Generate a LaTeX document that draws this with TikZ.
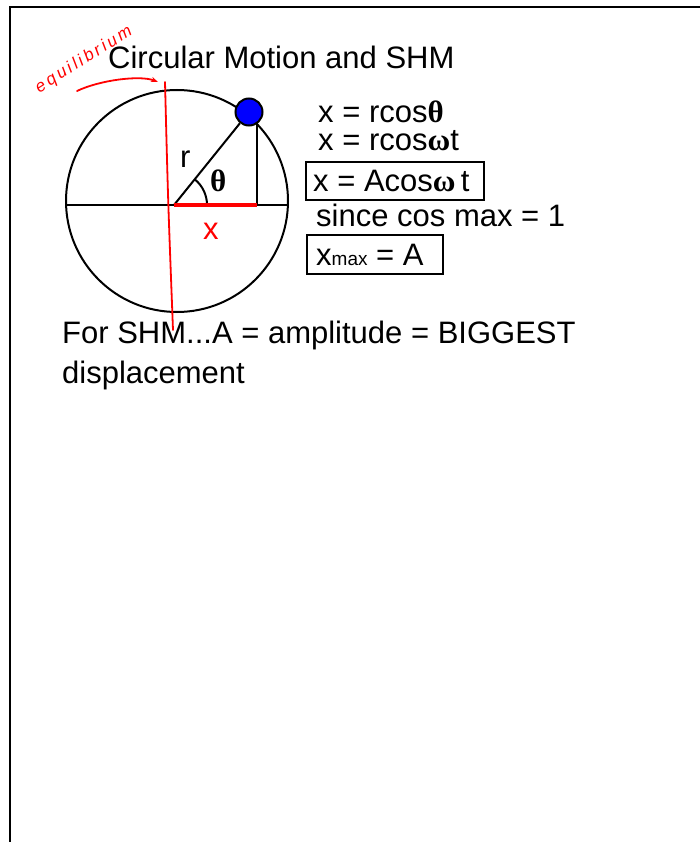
\documentclass[tikz,border=0pt]{standalone}
\usepackage{fontspec}
\setmainfont{Liberation Sans}
\newfontfamily\symf{Liberation Serif}
\usetikzlibrary{arrows.meta}
\tikzset{
  txt/.style={anchor=base west, inner sep=0pt, font=\fontsize{31}{34}\selectfont},
  ink/.style={red, line width=1.8pt, line cap=round},
  pen/.style={line width=2pt},
}
\newcommand{\thet}{{\symf\bfseries θ}}
\newcommand{\omg}{{\symf\bfseries ω}}
\begin{document}
\begin{tikzpicture}[x=1pt,y=-1pt]
\useasboundingbox (0,0) rectangle (700,842);
\draw[line width=2.2pt] (10,843) -- (10,7) -- (701,7);
% circle diagram
\coordinate (C) at (177,201);
\coordinate (O) at (174,205);
\coordinate (L) at (66,205);
\coordinate (R) at (288,205);
\coordinate (F) at (257,205);
\coordinate (Ft) at (257,118);
\draw[pen] (C) circle[radius=111];
\draw[pen] (L) -- (R);
\draw[pen] (F) -- (Ft);
\node[circle, fill=blue, draw, pen, minimum size=27pt, inner sep=0pt] (ball) at (249,112) {};
\draw[pen] (O) -- (ball);
\draw[pen] (O) ++(33,0) arc[start angle=0, end angle=-51, radius=33];
\node[txt] (r) at (180,168) {r};
\node[txt] (th) at (210,192) {\thet};
\draw[red, line width=4pt] (O) -- (F);
\node[txt, red] (xl) at (203,240) {x};
\coordinate (vt) at (165,82);
\coordinate (vb) at (173,330);
\draw[ink] (vt) .. controls (168,200) .. (vb);
% handwritten label
\node[red, rotate=32, inner sep=0pt, font=\itshape\fontsize{17}{17}\selectfont] (eq) at (84,60) {e\,q\,u\,i\,l\,i\,b\,r\,i\,u\,m};
\coordinate (a1) at (77,91);
\coordinate (a2) at (158,82);
\draw[ink, -{Stealth[length=7pt]}] (a1) .. controls (100,80) and (140,75) .. (a2);
% title
\node[txt] (title) at (108,69) {Circular Motion and SHM};
% equations
\node[txt] (e1) at (318,123) {x = rcos\thet};
\node[txt] (e2) at (318,151) {x = rcos\omg t};
\node[txt] (e3) at (313,192) {x = Acos\omg\,t};
\draw[pen] (306,162) rectangle (484,200);
\node[txt] (e4) at (316,226) {since cos max = 1};
\node[txt] (e5) at (316,265) {x{\fontsize{19}{20}\selectfont max} = A};
\draw[pen] (307,235) rectangle (443,274);
% bottom text
\node[txt] (b1) at (62,343) {For SHM...A = amplitude = BIGGEST};
\node[txt] (b2) at (62,383) {displacement};
\end{tikzpicture}
\end{document}
